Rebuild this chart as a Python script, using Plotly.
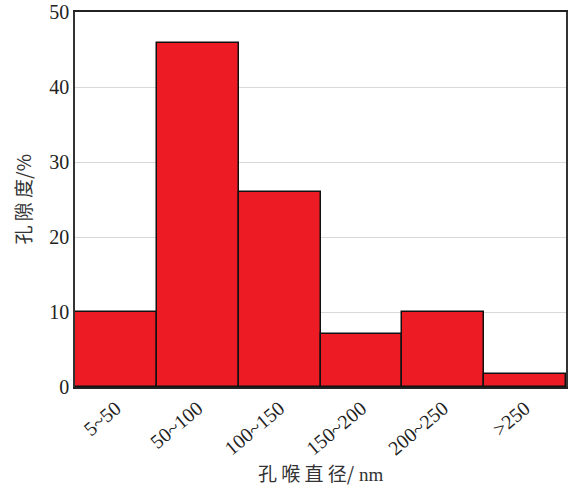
import plotly.graph_objects as go

categories = ["5~50", "50~100", "100~150", "150~200", "200~250", ">250"]
porosity = [10, 45.9, 26, 7.1, 10, 1.8]
y_ticks = [0, 10, 20, 30, 40, 50]
x_title = "孔 喉 直 径/<span style='font-family:Liberation Serif'> nm</span>"
y_title = "孔 隙 度/%"

fig = go.Figure()
fig.add_trace(go.Bar(
    x=categories, y=porosity,
    marker=dict(color="#ED1C24", line=dict(color="#111111", width=1.5)),
))
serif = "Liberation Serif, Times New Roman, serif"
cjk = "Noto Sans CJK SC"
fig.update_layout(
    width=576, height=485,
    margin=dict(l=75, r=10, t=12, b=98),
    plot_bgcolor="white", paper_bgcolor="white",
    bargap=0, showlegend=False,
    font=dict(family=serif, color="#222222", size=20),
    xaxis=dict(
        tickangle=-40, tickfont=dict(family=serif, size=20, color="#222222"),
        showline=True, linecolor="#222222", linewidth=2, mirror=True,
        ticks="", showgrid=False, automargin=False,
    ),
    yaxis=dict(
        range=[0, 50], tickvals=y_ticks,
        tickfont=dict(family=serif, size=20, color="#222222"),
        showline=True, linecolor="#333333", linewidth=1.5, mirror=True,
        ticks="", showgrid=True, gridcolor="#D9D9D9", gridwidth=1,
        zeroline=False, automargin=False,
    ),
    annotations=[
        dict(text=x_title, xref="paper", yref="paper", x=0.5, y=-0.227,
             xanchor="center", yanchor="middle", showarrow=False,
             font=dict(family=cjk, size=19, color="#333333")),
        dict(text=y_title, xref="paper", yref="paper", x=-0.106, y=0.5,
             xanchor="center", yanchor="middle", showarrow=False, textangle=-90,
             font=dict(family=cjk, size=19, color="#333333")),
    ],
)
fig.write_html("out.html", config={"displayModeBar": False},
               post_script="document.body.style.margin='0';document.body.style.padding='0';")
